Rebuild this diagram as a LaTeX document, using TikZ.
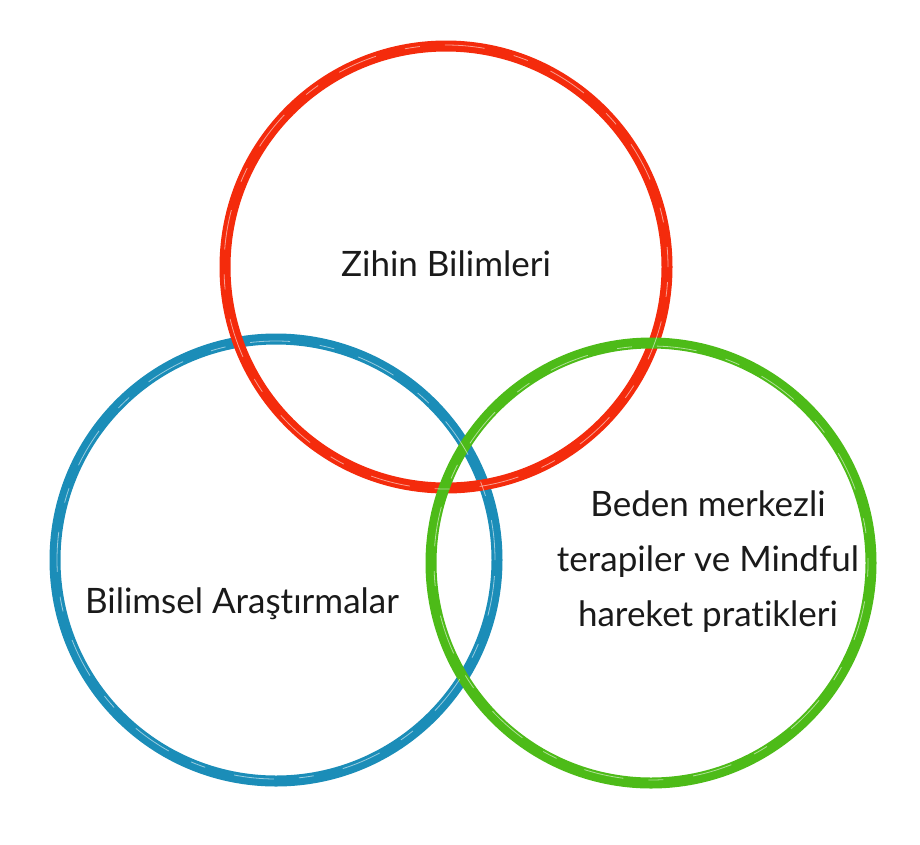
\documentclass[tikz,border=0pt]{standalone}
\usepackage{fontspec}
\setmainfont{Lato}[Ligatures=NoCommon]
\definecolor{ringred}{HTML}{F42B0C}
\definecolor{ringblue}{HTML}{1B8DB8}
\definecolor{ringgreen}{HTML}{4DBB18}
\definecolor{txt}{HTML}{1A1A1A}
\tikzset{
  ring/.style={circle, draw=#1, line width=11pt, inner sep=0pt, minimum size=442pt},
  streak/.style={draw=white, line width=0.8pt, opacity=0.55, dash pattern=on 40pt off 25pt on 15pt off 30pt},
  label/.style={text=txt, font=\fontsize{35}{55}\selectfont, align=center, inner sep=0pt}
}
\begin{document}
\begin{tikzpicture}[x=1pt, y=-1pt]
\useasboundingbox (0,0) rectangle (920,844);
\fill[white] (0,0) rectangle (920,844);
% rings
\node[ring=ringblue] (bilim) at (276,560) {};
\node[ring=ringred] (zihin) at (446,267) {};
\node[ring=ringgreen, minimum size=440pt] (beden) at (651,563) {};
% brush streaks
\draw[streak] (276,560) circle (219pt);
\draw[streak, dash phase=20pt] (446,267) circle (222pt);
\draw[streak, dash phase=35pt] (651,563) circle (217pt);
% labels
\node[label] (tz) at (446,264) {Zihin Bilimleri};
\node[label] (tb) at (242,604) {Bilimsel Araştırmalar};
\node[label] (tg) at (708,562) {Beden merkezli\\terapiler ve Mindful\\hareket pratikleri};
\end{tikzpicture}
\end{document}
